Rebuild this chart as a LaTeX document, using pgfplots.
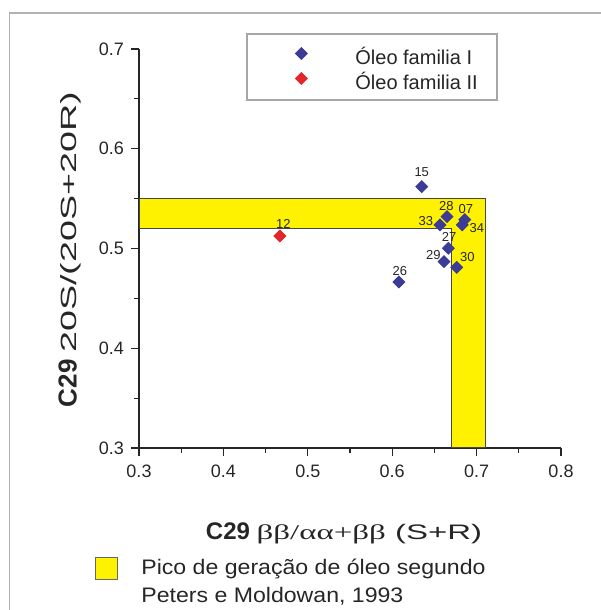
\documentclass[border=0pt]{standalone}
\usepackage{pgfplots}
\pgfplotsset{compat=1.18}
\usepackage{pgfplotstable}
\usepackage{graphicx}
\usepackage{fontspec}
\setmainfont{Liberation Sans}
\newfontfamily\grk{Liberation Serif}
\newfontfamily\widesans[FakeStretch=1.1]{Liberation Sans}
\definecolor{famI}{HTML}{3C3C96}
\definecolor{famII}{HTML}{E3262A}
\definecolor{pico}{HTML}{FFF200}
\definecolor{txt}{HTML}{262626}

\pgfplotstableread{
x y lab dx dy
0.635 0.562 15 0 7.5
0.665 0.532 28 -0.3 5.3
0.686 0.529 07 0.5 5.5
0.683 0.5236 34 7.3 -1.3
0.6566 0.5236 33 -7 2.2
0.6665 0.5002 27 0.4 5.5
0.6614 0.4868 29 -5.3 3.3
0.6764 0.4811 30 5.3 5
0.608 0.4664 26 0.5 5.3
}\famItab
\pgfplotstableread{
x y lab dx dy
0.467 0.5125 12 1.7 5.8
}\famIItab

\begin{document}
\begin{tikzpicture}[x=1pt,y=1pt]
\useasboundingbox (0,0) rectangle (300,305);
\draw[gray!60, line width=0.7pt] (4.75,-1) -- (4.75,298.5) -- (301,298.5);
\draw[gray!70, line width=0.6pt, fill=white] (123.5,255) rectangle (248.5,288);
\begin{axis}[
  at={(69.5pt,81pt)}, anchor=south west,
  scale only axis, width=211pt, height=199.5pt,
  xmin=0.3, xmax=0.8, ymin=0.3, ymax=0.7,
  axis lines=left,
  axis line style={-, line width=0.7pt, color=txt},
  xtick={0.3,0.4,0.5,0.6,0.7,0.8},
  ytick={0.3,0.4,0.5,0.6,0.7},
  minor xtick={0.35,0.45,0.55,0.65,0.75},
  minor ytick={0.35,0.45,0.55,0.65},
  tick align=outside,
  major tick length=4pt, minor tick length=2.5pt,
  every tick/.style={line width=0.6pt, color=txt},
  ticklabel style={font=\fontsize{9}{10}\selectfont, text=txt},
  xticklabel style={yshift=-1pt},
  /pgf/number format/assume math mode=true,
  clip=false,
  legend style={at={(axis description cs:0.2559,1.010)}, anchor=north west,
    draw=none, fill=none, inner sep=0pt, row sep=1pt, column sep=0pt,
    nodes={inner sep=0pt, text height=7pt, text depth=2pt,
      font=\fontsize{10}{12}\selectfont, text=txt}},
  legend cell align=left,
  legend image code/.code={\path[draw=none, fill=none] (0pt,-2pt) rectangle (54pt,7pt);
    \draw[#1, only marks] plot coordinates {(27pt,3pt)};},
  nodes near coords style={font=\fontsize{6.5}{7}\selectfont, text=txt, anchor=center, inner sep=0pt},
]
\addplot[fill=pico, draw=txt!85, line width=0.5pt, forget plot]
  coordinates {(0.3,0.52) (0.3,0.55) (0.71,0.55) (0.71,0.3) (0.67,0.3) (0.67,0.52)} -- cycle;
\addplot[only marks, color=famI, mark=square*, mark size=2.1pt,
  mark options={rotate=45, fill=famI, draw=famI},
  nodes near coords, point meta=explicit symbolic,
  visualization depends on={\thisrow{dx}\as\dx},
  visualization depends on={\thisrow{dy}\as\dy},
  every node near coord/.append style={xshift={\dx*1pt}, yshift={\dy*1pt}}]
  table[x=x, y=y, meta=lab] {\famItab};
\addlegendentry{Óleo familia I}
\addplot[only marks, color=famII, mark=square*, mark size=2.1pt,
  mark options={rotate=45, fill=famII, draw=famII},
  nodes near coords, point meta=explicit symbolic,
  visualization depends on={\thisrow{dx}\as\dx},
  visualization depends on={\thisrow{dy}\as\dy},
  every node near coord/.append style={xshift={\dx*1pt}, yshift={\dy*1pt}}]
  table[x=x, y=y, meta=lab] {\famIItab};
\addlegendentry{Óleo familia II}
\end{axis}
\node[anchor=base, inner sep=0pt, text=txt] at (172,35)
  {{\fontsize{12}{13}\selectfont\textbf{C29}}\hspace{3.3pt}{\fontsize{10.5}{12}\selectfont\resizebox{112.7pt}{\height}{{\grk ββ/αα+ββ} (S+R)}}};
\node[anchor=base, rotate=90, inner sep=0pt, text=txt] at (38.3,180.25)
  {{\fontsize{13}{14}\selectfont\textbf{C29}}\hspace{3.3pt}{\fontsize{11}{13}\selectfont\resizebox{130.4pt}{\height}{20S/(20S+20R)}}};
\draw[txt!70, line width=0.5pt, fill=pico] (47.5,15) rectangle (58.65,26.15);
\node[anchor=base west, inner sep=0pt, text=txt, font=\widesans\fontsize{10.5}{12}\selectfont] at (70.5,17.5)
  {Pico de geração de óleo segundo};
\node[anchor=base west, inner sep=0pt, text=txt, font=\widesans\fontsize{10.5}{12}\selectfont] at (70.5,4)
  {Peters e Moldowan, 1993};
\end{tikzpicture}
\end{document}
